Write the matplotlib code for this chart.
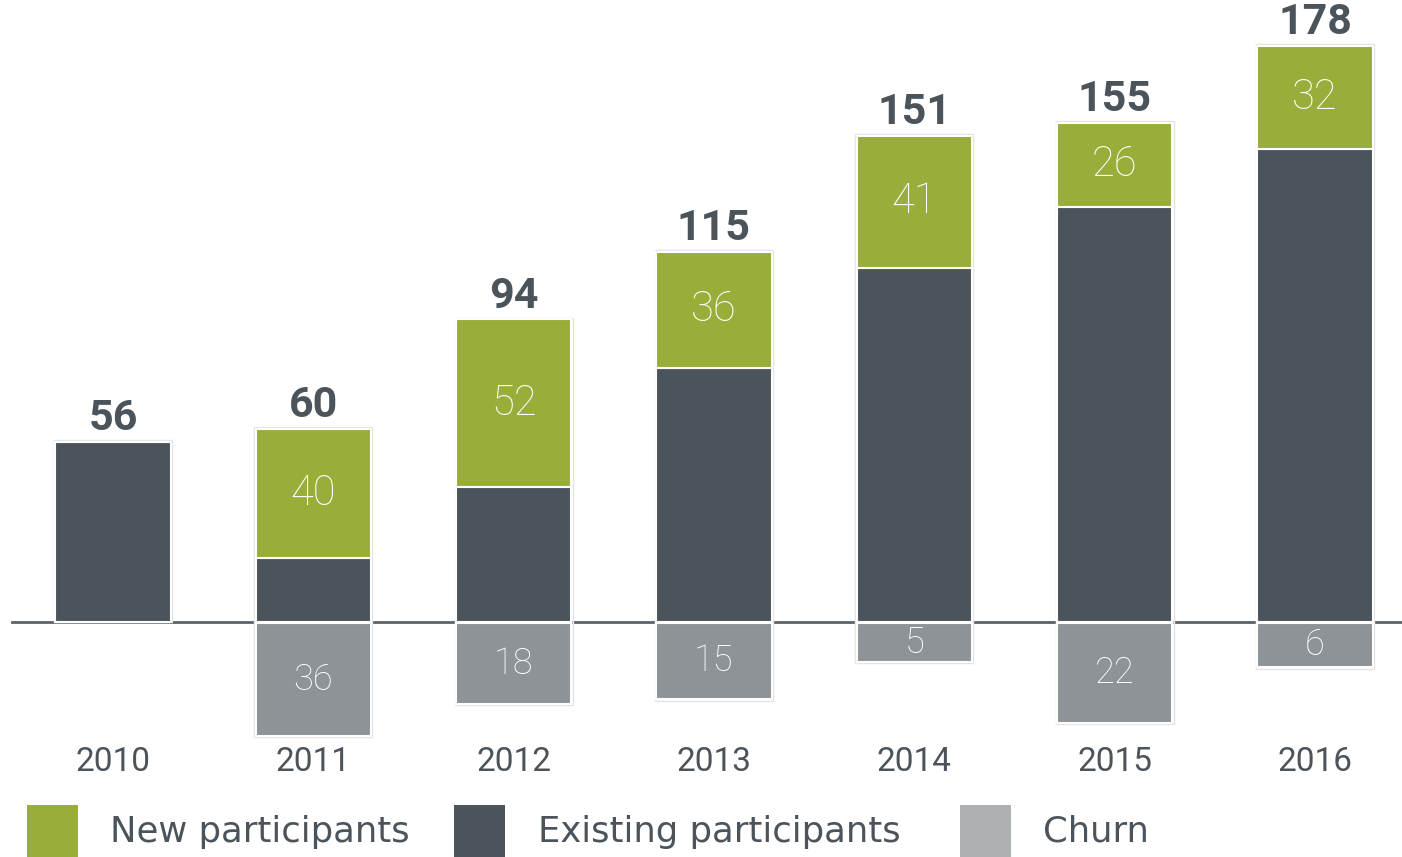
import matplotlib.pyplot as plt
from matplotlib.patches import Rectangle

plt.rcParams['font.family'] = ['Roboto', 'DejaVu Sans']

years = ['2010', '2011', '2012', '2013', '2014', '2015', '2016']
totals = [56, 60, 94, 115, 151, 155, 178]
new = [0, 40, 52, 36, 41, 26, 32]
existing = [56, 20, 42, 79, 110, 129, 147]
churn = [0, 36, 18, 15, 5, 22, 6]
# churn bars in the original are not drawn to scale; depths
churn_depth = [0, 35, 25, 23.6, 12, 31, 13.7]

green = '#98ae3b'
dark = '#4b535b'
grey = '#8e9397'
grey_legend = '#adb0b1'

W, H = 1402, 857
fig = plt.figure(figsize=(W / 100, H / 100), dpi=100)
ax = fig.add_axes([0, 0, 1, 1])
ppu_x = 200.33
ppu_y = 3.22
base_px = 622
ax.set_xlim(-113 / ppu_x, (W - 113) / ppu_x)
ax.set_ylim(-(H - base_px) / ppu_y, base_px / ppu_y)
ax.axis('off')

x = list(range(len(years)))
bw = 0.575

# baseline
ax.plot([(12 - 113) / ppu_x, (W - 113) / ppu_x], [0, 0], color='#5b6369', lw=2, zorder=1)

ax.bar(x, existing, width=bw, color=dark, edgecolor='white', lw=1.5, zorder=2)
ax.bar(x, new, bottom=existing, width=bw, color=green, edgecolor='white', lw=1.5, zorder=2)
for i in x:
    if churn[i]:
        ax.bar(i, -churn_depth[i], bottom=-0.4, width=bw, color=grey, edgecolor='white', lw=1.5, zorder=2)
        ax.bar(i, -churn_depth[i] - 0.8, bottom=0, width=bw + 0.015, color='none',
               edgecolor='#e4e4e4', lw=1, zorder=1.5)
    top = existing[i] + new[i]
    ax.bar(i, top + 0.5, width=bw + 0.015, color='none', edgecolor='#e4e4e4', lw=1, zorder=1.5)

for i in x:
    ax.annotate(str(totals[i]), (i, existing[i] + new[i]), xytext=(0, 2), textcoords='offset points',
                ha='center', va='bottom', fontsize=31, fontweight='bold', color=dark)
    if new[i]:
        ax.text(i, existing[i] + new[i] / 2, str(new[i]), ha='center', va='center',
                fontsize=30, fontweight='light', color='white', zorder=3)
    if churn[i]:
        ax.text(i, -0.4 - churn_depth[i] / 2, str(churn[i]), ha='center', va='center',
                fontsize=26, fontweight='light', color='white', zorder=3)
    ax.text(i, -(762 - base_px) / ppu_y, years[i], ha='center', va='center',
            fontsize=24, color=dark)

# legend
legend = [('New participants', green, 27, 110),
          ('Existing participants', dark, 454, 538),
          ('Churn', grey_legend, 960, 1043)]
for label, col, sx, tx in legend:
    fig.patches.append(Rectangle((sx / W, 0), 51 / W, 52 / H, transform=fig.transFigure,
                                 facecolor=col, edgecolor='none'))
    fig.text(tx / W, 1 - 832 / H, label, ha='left', va='center', fontsize=25.5,
             color=dark, family=['DejaVu Sans'])

fig.savefig('out.png', dpi=100)
